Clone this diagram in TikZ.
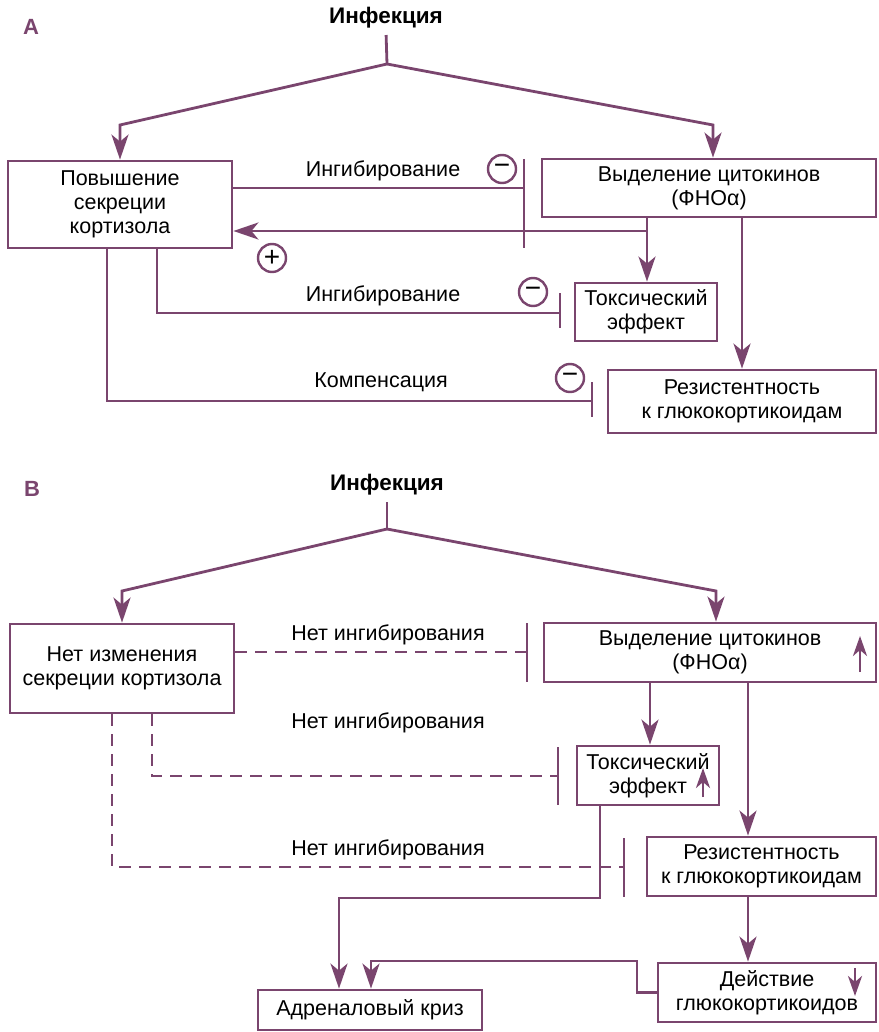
\documentclass[tikz,border=0pt]{standalone}
\usepackage{fontspec}
\setmainfont{Liberation Sans}
\usetikzlibrary{arrows.meta}
\usetikzlibrary{positioning}
\definecolor{plum}{RGB}{122,69,110}

\tikzset{
  box/.style={draw=plum, line width=2.8pt, align=center, inner sep=0pt,
    font=\fontsize{21.5}{24}\selectfont},
  link/.style={draw=plum, line width=2.8pt},
  arr/.style={link, -{Stealth[length=25pt,width=17pt,inset=7pt]}},
  uparr/.style={link, -{Stealth[length=20pt,width=14pt,inset=6pt]}},
  nolink/.style={link, dash pattern=on 12pt off 8pt},
  lbl/.style={font=\fontsize{21.5}{24}\selectfont},
  sign/.style={circle, draw=plum, line width=2.4pt, minimum size=28pt,
    inner sep=0pt, font=\fontsize{28}{28}\selectfont},
  head/.style={font=\bfseries\fontsize{22.5}{24}\selectfont},
  panel/.style={font=\bfseries\fontsize{22}{22}\selectfont, text=plum},
}

\begin{document}
\begin{tikzpicture}[x=1pt,y=-1pt]
  \useasboundingbox (0,0) rectangle (878,1032);
  % panel A
  \node[panel] (letA) at (31,27) {A};
  \node[head] (infA) at (386,18) {Инфекция};
  \node[box, minimum width=224pt, minimum height=87pt] (cortA) at (120,204.5) {Повышение\\секреции\\кортизола};
  \node[box, minimum width=334pt, minimum height=58pt] (cytA) at (709,188) {Выделение цитокинов\\(ФНОα)};
  \node[box, minimum width=142pt, minimum height=58pt] (toxA) at (646,312) {Токсический\\эффект};
  \node[box, minimum width=268pt, minimum height=63pt] (resA) at (742,401.5) {Резистентность\\к глюкокортикоидам};

  \coordinate (forkA) at (387,64);
  \coordinate (lA) at (120,125);
  \coordinate (rA) at (713,125);
  \draw[link, shorten <=3pt] (infA.south) -- (forkA);
  \draw[arr] (forkA) -- (lA) -- (cortA.north);
  \draw[arr] (forkA) -- (rA) -- (rA |- cytA.north);

  \coordinate (barA1) at (524,188);
  \coordinate (jA) at (647,231);
  \coordinate (cA2) at (157,313);
  \coordinate (barA2) at (560,313);
  \coordinate (cA3) at (107,401);
  \coordinate (barA3) at (592,401);
  \draw[link] (cortA.east |- barA1) -- (barA1);
  \draw[arr] (jA |- cytA.south) -- (jA) -- (jA -| cortA.east);
  \draw[arr] (jA) -- (jA |- toxA.north);
  \draw[arr] (resA.north |- cytA.south) -- (resA.north);
  \draw[link] (cortA.south -| cA2) -- (cA2) -- (barA2);
  \draw[link] (cortA.south -| cA3) -- (cA3) -- (barA3);
  \foreach \b/\u/\d in {barA1/29/60, barA2/20/15, barA3/19/16}
    \draw[link] (\b) ++(0,-\u) -- ++(0,\u+\d);

  \node[lbl] (inhA1) at (383,171) {Ингибирование};
  \node[lbl] (inhA2) at (383,296) {Ингибирование};
  \node[lbl] (compA) at (381,382) {Компенсация};
  \node[sign] (minA1) at (502,169) {−};
  \node[sign] (plusA) at (272,258) {+};
  \node[sign] (minA2) at (533,292) {−};
  \node[sign] (minA3) at (570,378) {−};

  % panel B
  \node[panel] (letB) at (32,489) {B};
  \node[head] (infB) at (387,485) {Инфекция};
  \node[box, minimum width=224pt, minimum height=89pt] (cortB) at (122,668.5) {Нет изменения\\секреции кортизола};
  \node[box, minimum width=332pt, minimum height=59pt] (cytB) at (710,652.5) {Выделение цитокинов\\(ФНОα)};
  \node[box, minimum width=142pt, minimum height=59pt] (toxB) at (648,775.5) {Токсический\\эффект};
  \node[box, minimum width=229pt, minimum height=59pt] (resB) at (761.5,866.5) {Резистентность\\к глюкокортикоидам};
  \node[box, minimum width=218pt, minimum height=59pt] (dejB) at (767,992.5) {Действие\\глюкокортикоидов};
  \node[box, minimum width=224pt, minimum height=40pt] (adrB) at (370,1010) {Адреналовый криз};

  \coordinate (forkB) at (387,529);
  \coordinate (lB) at (122,591);
  \coordinate (rB) at (716,591);
  \draw[link, shorten <=3pt] (infB.south) -- (forkB);
  \draw[arr] (forkB) -- (lB) -- (cortB.north);
  \draw[arr] (forkB) -- (rB) -- (rB |- cytB.north);

  \coordinate (barB1) at (527,652);
  \coordinate (cB2) at (152,776);
  \coordinate (barB2) at (558,776);
  \coordinate (cB3) at (112,867);
  \coordinate (barB3) at (624,867);
  \draw[nolink] (cortB.east |- barB1) -- (barB1);
  \draw[nolink] (cortB.south -| cB2) -- (cB2) -- (barB2);
  \draw[nolink] (cortB.south -| cB3) -- (cB3) -- (barB3);
  \foreach \b/\u/\d in {barB1/29/30, barB2/29/29, barB3/29/30}
    \draw[link] (\b) ++(0,-\u) -- ++(0,\u+\d);

  \coordinate (tB) at (650,0);
  \coordinate (vB) at (748,0);
  \coordinate (kB) at (600,898);
  \coordinate (aB) at (339,898);
  \coordinate (dB) at (637,961);
  \coordinate (eB) at (371,961);
  \draw[arr] (cytB.south -| tB) -- (toxB.north -| tB);
  \draw[arr] (cytB.south -| vB) -- (resB.north -| vB);
  \draw[arr] (resB.south -| vB) -- (dejB.north -| vB);
  \draw[arr] (toxB.south -| kB) -- (kB) -- (aB) -- (aB |- adrB.north);
  \draw[arr] (dejB.west) -| (dB) -- (eB) -- (eB |- adrB.north);

  \node[lbl] (noB1) at (388,635) {Нет ингибирования};
  \node[lbl] (noB2) at (388,723) {Нет ингибирования};
  \node[lbl] (noB3) at (388,850) {Нет ингибирования};

  % small trend arrows
  \draw[uparr] (860,672) -- (860,636);
  \draw[uparr] (703,797) -- (703,768);
  \draw[uparr] (855,968) -- (855,996);
\end{tikzpicture}
\end{document}
